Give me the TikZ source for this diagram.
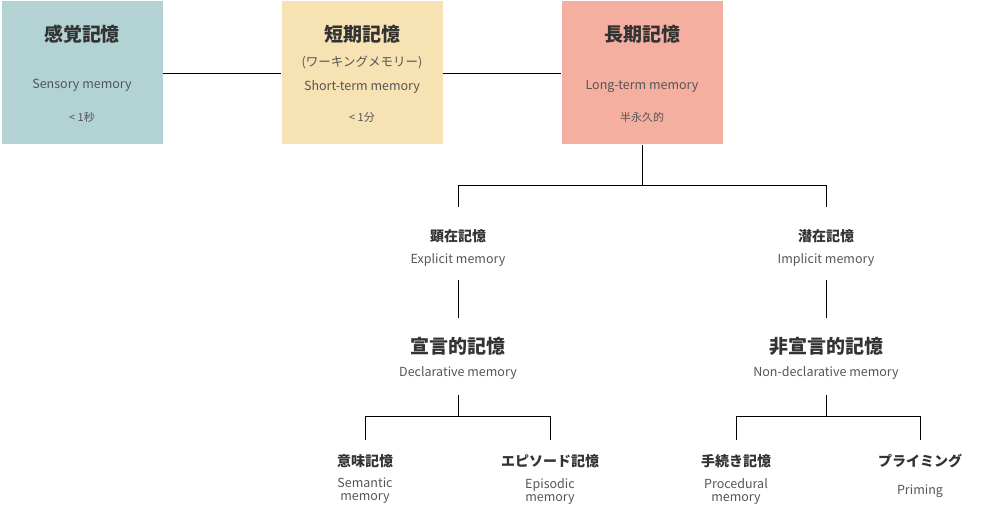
\documentclass[tikz,border=0pt]{standalone}
\usepackage{fontspec}
\setmainfont{Noto Sans CJK JP}
\usetikzlibrary{positioning, calc}
\definecolor{sensoryc}{HTML}{B2D2D3}
\definecolor{shortc}{HTML}{F7E2B3}
\definecolor{longc}{HTML}{F4AFA0}
\definecolor{txtc}{HTML}{333333}
\definecolor{subc}{HTML}{555555}
\tikzset{
    stage/.style={rectangle, minimum width=161pt, minimum height=143pt, inner sep=0pt},
    title/.style={font=\fontsize{19}{22}\selectfont\bfseries, text=txtc},
    head/.style={font=\fontsize{19}{22}\selectfont\bfseries, text=txtc},
    label/.style={font=\fontsize{14}{17}\selectfont\bfseries, text=txtc},
    en/.style={font=\fontsize{12.5}{16}\selectfont, text=subc, align=center},
    small/.style={font=\fontsize{11}{13}\selectfont, text=subc},
    link/.style={line width=0.9pt, color=black}
}
\begin{document}
\begin{tikzpicture}[x=1pt, y=-1pt]
        \useasboundingbox (0,0) rectangle (986,516);
        % Stages
        \node (sens) [stage, fill=sensoryc] at (82,73) {};
        \node (short) [stage, fill=shortc] at (362,73) {};
        \node (long) [stage, fill=longc] at (642,73) {};
        \draw [link] (sens.east) -- (short.west);
        \draw [link] (short.east) -- (long.west);

        \node [title] at (82,34) {感覚記憶};
        \node [en] at (82,85) {Sensory memory};
        \node [small] at (82,117) {< 1秒};
        \node [title] at (362,34) {短期記憶};
        \node [en] at (362,62) {(ワーキングメモリー)};
        \node [en] at (362,87) {Short-term memory};
        \node [small] at (362,117) {< 1分};
        \node [title] at (642,34) {長期記憶};
        \node [en] at (642,86) {Long-term memory};
        \node [small] at (642,117) {半永久的};

        % Explicit / implicit
        \node (expl) [label] at (458,236) {顕在記憶};
        \node (expleng) [en] at (458,260) {Explicit memory};
        \node (impl) [label] at (826,236) {潜在記憶};
        \node (impleng) [en] at (826,260) {Implicit memory};
        \coordinate (j1) at (642,185);
        \draw [link] (long.south) -- (j1);
        \draw [link] (458,207) -- (458,185) -- (826,185) -- (826,207);

        \node (decl) [head] at (458,346) {宣言的記憶};
        \node (decleng) [en] at (458,373) {Declarative memory};
        \node (nond) [head] at (826,346) {非宣言的記憶};
        \node (nondeng) [en] at (826,373) {Non-declarative memory};
        \draw [link] (458,280) -- (458,318);
        \draw [link] (826,280) -- (826,318);

        % Leaves
        \draw [link] (458,395) -- (458,416);
        \draw [link] (365,440) -- (365,416) -- (550,416) -- (550,440);
        \draw [link] (826,395) -- (826,416);
        \draw [link] (736,440) -- (736,416) -- (920,416) -- (920,440);

        \node (sem) [label] at (365,461) {意味記憶};
        \node [en] at (365,491) {Semantic\\[-3pt]memory};
        \node (epi) [label] at (550,461) {エピソード記憶};
        \node [en] at (550,491) {Episodic\\[-3pt]memory};
        \node (proc) [label] at (736,461) {手続き記憶};
        \node [en] at (736,491) {Procedural\\[-3pt]memory};
        \node (prim) [label] at (920,461) {プライミング};
        \node [en] at (920,491) {Priming};
    \end{tikzpicture}
\end{document}
